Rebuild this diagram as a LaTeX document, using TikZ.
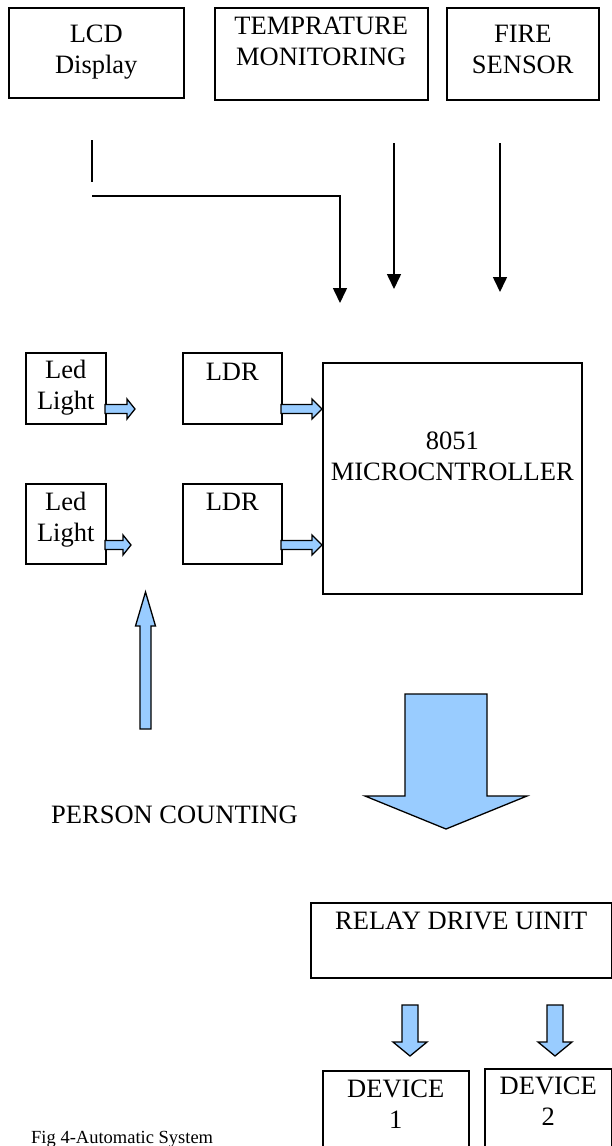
\documentclass[tikz,border=0pt]{standalone}
\usepackage{fontspec}
\setmainfont{Liberation Serif}
\usetikzlibrary{arrows.meta,positioning}
\definecolor{arrowblue}{HTML}{99CCFF}

% blue block arrow: tail, rotation, length, head length, half shaft, half head
\newcommand{\blockarrow}[6]{%
  \draw[fatarrow, shift={(#1)}, rotate=#2]
    (0,-#5) -- ({#3-#4},-#5) -- ({#3-#4},-#6) -- (#3,0)
    -- ({#3-#4},#6) -- ({#3-#4},#5) -- (0,#5) -- cycle;
}

\begin{document}
\begin{tikzpicture}[
    x=1pt, y=-1pt,
    box/.style={draw, line width=1.5pt, anchor=north west, inner sep=0pt},
    txt/.style={font=\fontsize{26.5}{30.5}\selectfont, align=center, inner sep=0pt, anchor=north},
    arr/.style={line width=1.6pt, -{Triangle[width=14pt,length=15pt]}},
    fatarrow/.style={draw, line width=1.3pt, fill=arrowblue, line join=miter}
]
    \clip (0,0) rectangle (612,1146);

    % sensors on top
    \node[box, minimum width=175pt, minimum height=90pt,
        label={[txt, yshift=-18pt]north:LCD\\Display}] (lcd) at (8,7) {};
    \node[box, minimum width=213pt, minimum height=92pt,
        label={[txt, yshift=-10pt]north:TEMPRATURE\\MONITORING}] (temp) at (214,7) {};
    \node[box, minimum width=152pt, minimum height=92pt,
        label={[txt, yshift=-18pt]north:FIRE\\SENSOR}] (fire) at (446,7) {};

    \coordinate (lcdtop) at (92,140);
    \coordinate (lcdbot) at (92,182);
    \coordinate (bendA) at (92,196);
    \coordinate (bendB) at (340,196);
    \coordinate (lcdend) at (340,303);
    \coordinate (tempA) at (394,143);
    \coordinate (tempB) at (394,289);
    \coordinate (fireA) at (500,143);
    \coordinate (fireB) at (500,292);

    \draw[line width=1.6pt] (lcdtop) -- (lcdbot);
    \draw[arr] (bendA) -- (bendB) -- (lcdend);
    \draw[arr] (tempA) -- (tempB);
    \draw[arr] (fireA) -- (fireB);

    % person counting
    \node[box, minimum width=80pt, minimum height=71pt,
        label={[txt, yshift=-8pt]north:Led\\Light}] (led1) at (25,352) {};
    \node[box, minimum width=99pt, minimum height=71pt,
        label={[txt, yshift=-11pt]north:LDR}] (ldr1) at (182,352) {};
    \node[box, minimum width=80pt, minimum height=80pt,
        label={[txt, yshift=-9pt]north:Led\\Light}] (led2) at (25,483) {};
    \node[box, minimum width=99pt, minimum height=80pt,
        label={[txt, yshift=-10pt]north:LDR}] (ldr2) at (182,483) {};
    \node[box, minimum width=259pt, minimum height=231pt,
        label={[txt, yshift=-70pt]north:8051\\MICROCNTROLLER}] (mcu) at (322,362) {};

    \blockarrow{105,409}{0}{30}{8}{4.5}{10}
    \blockarrow{281,409}{0}{41}{10}{4.5}{10}
    \blockarrow{105,545}{0}{26}{8}{4.5}{10}
    \blockarrow{281,545}{0}{41}{10}{4.5}{10}
    \blockarrow{145.5,729}{90}{137}{34}{5.5}{10}

    \node[txt, anchor=base west] (count) at (51,823) {PERSON COUNTING};

    % output side
    \blockarrow{446,694}{-90}{135}{33}{41}{81}

    \node[box, minimum width=301pt, minimum height=75pt,
        label={[txt, yshift=-10pt]north:RELAY DRIVE UINIT}] (relay) at (310,902) {};

    \blockarrow{410,1005}{-90}{51}{14}{8}{17}
    \blockarrow{555,1005}{-90}{51}{14}{8}{17}

    \node[box, minimum width=146pt, minimum height=100pt,
        label={[txt, yshift=-10pt]north:DEVICE\\1}] (dev1) at (322,1070) {};
    \node[box, minimum width=127pt, minimum height=100pt,
        label={[txt, yshift=-9pt]north:DEVICE\\2}] (dev2) at (484,1068) {};

    \node[font=\fontsize{18.5}{22}\selectfont, anchor=base west, inner sep=0pt]
        (caption) at (31,1143) {Fig 4-Automatic System};
\end{tikzpicture}
\end{document}
